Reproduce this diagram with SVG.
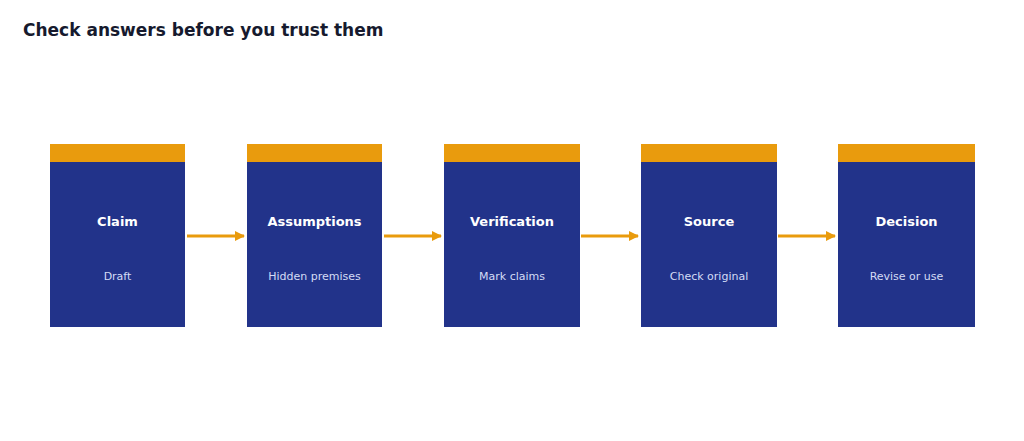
<svg xmlns="http://www.w3.org/2000/svg" width="1024" height="441" viewBox="0 0 1024 441">
<style>
.body{fill:#22338a}.cap{fill:#e99b0d}
.t{font-family:"DejaVu Sans",sans-serif;font-size:13px;font-weight:bold;fill:#fff;text-anchor:middle}
.s{font-family:"DejaVu Sans",sans-serif;font-size:11px;fill:#d4dcf5;text-anchor:middle}
.c{stroke:#e99b0d;stroke-width:3;fill:none;marker-end:url(#a)}
</style>
<defs><marker id="a" markerWidth="10" markerHeight="10" refX="9" refY="5" orient="auto" markerUnits="userSpaceOnUse"><path d="M0,0L10,5L0,10z" fill="#e99b0d"/></marker></defs>
<rect width="1024" height="441" fill="#fff"/>
<text x="23" y="36" style="font-family:'DejaVu Sans',sans-serif;font-size:17px;font-weight:bold;fill:#161a2e">Check answers before you trust them</text>
<g id="claim"><rect class="body" x="50" y="162" width="135" height="165"/><rect class="cap" x="50" y="144" width="135" height="18"/><text class="t" x="117.5" y="226">Claim</text><text class="s" x="117.5" y="280">Draft</text></g>
<g id="assumptions"><rect class="body" x="247" y="162" width="135" height="165"/><rect class="cap" x="247" y="144" width="135" height="18"/><text class="t" x="314.5" y="226">Assumptions</text><text class="s" x="314.5" y="280">Hidden premises</text></g>
<g id="verification"><rect class="body" x="444" y="162" width="136" height="165"/><rect class="cap" x="444" y="144" width="136" height="18"/><text class="t" x="512" y="226">Verification</text><text class="s" x="512" y="280">Mark claims</text></g>
<g id="source"><rect class="body" x="641" y="162" width="136" height="165"/><rect class="cap" x="641" y="144" width="136" height="18"/><text class="t" x="709" y="226">Source</text><text class="s" x="709" y="280">Check original</text></g>
<g id="decision"><rect class="body" x="838" y="162" width="137" height="165"/><rect class="cap" x="838" y="144" width="137" height="18"/><text class="t" x="906.5" y="226">Decision</text><text class="s" x="906.5" y="280">Revise or use</text></g>
<g id="connectors">
<path class="c" d="M187,236H244"/><path class="c" d="M384,236H441"/><path class="c" d="M581,236H638"/><path class="c" d="M778,236H835"/>
</g>
</svg>
